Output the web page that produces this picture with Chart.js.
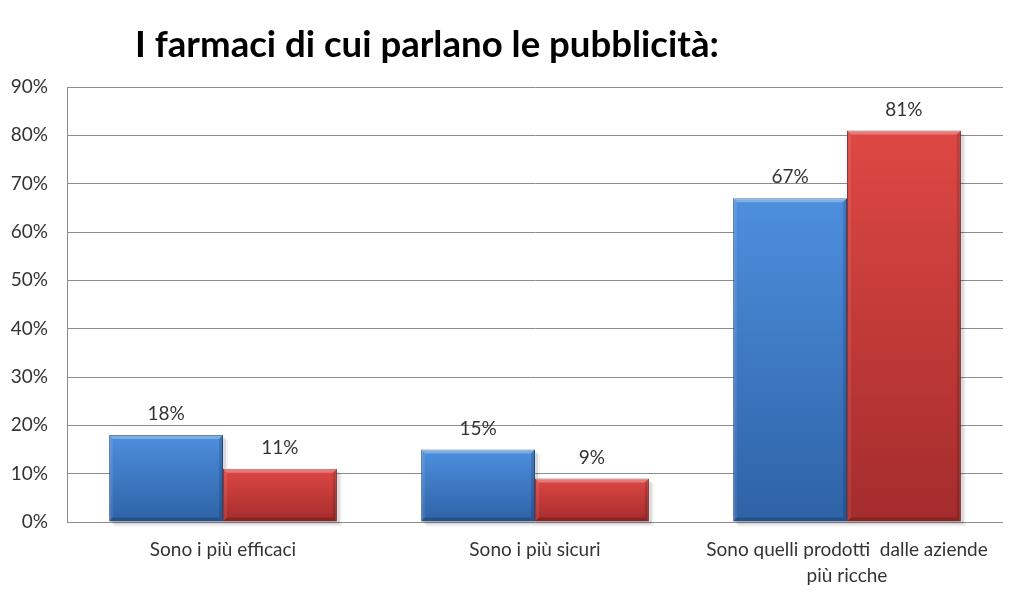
<!DOCTYPE html>
<html>
<head>
<meta charset="utf-8">
<script src="https://cdn.jsdelivr.net/npm/chart.js@4/dist/chart.umd.min.js"></script>
<style>
  html, body { margin: 0; padding: 0; background: #ffffff; }
  #wrap { width: 1024px; height: 601px; position: relative; }
</style>
</head>
<body>
<div id="wrap"><canvas id="c" width="1024" height="601"></canvas></div>
<script>
const titleText = "I farmaci di cui parlano le pubblicità:";
const categories = [
  "Sono i più efficaci",
  "Sono i più sicuri",
  ["Sono quelli prodotti  dalle aziende", "più ricche"]
];
const seriesBlue = [18, 15, 67];
const seriesRed = [11, 9, 81];
const yMin = 0, yMax = 90, yStep = 10;

const FONT = "Lato, 'Open Sans', 'DejaVu Sans', sans-serif";

function barGradient(ctx, light, dark) {
  const chart = ctx.chart;
  const ys = chart.scales.y;
  if (!ys || ctx.parsed === undefined || !chart.chartArea) return light;
  const top = ys.getPixelForValue(ctx.parsed.y);
  const bot = ys.getPixelForValue(0);
  if (!isFinite(top) || !isFinite(bot) || top === bot) return light;
  const g = chart.ctx.createLinearGradient(0, top, 0, bot);
  g.addColorStop(0, light);
  g.addColorStop(1, dark);
  return g;
}

const titlePlugin = {
  id: 'leftTitle',
  afterDraw(chart) {
    const c = chart.ctx;
    c.save();
    let size = 30;
    c.font = "bold " + size + "px " + FONT;
    const w = c.measureText(titleText).width;
    size = size * 585 / w;
    c.font = "bold " + size.toFixed(1) + "px " + FONT;
    c.fillStyle = "#000000";
    c.textAlign = "left";
    c.textBaseline = "alphabetic";
    c.fillText(titleText, 135, 57);
    c.restore();
  }
};

const shadowPlugin = {
  id: 'barShadow',
  beforeDatasetsDraw(chart) {
    const c = chart.ctx;
    c.save();
    chart.data.datasets.forEach((ds, di) => {
      const meta = chart.getDatasetMeta(di);
      meta.data.forEach(bar => {
        const x0 = bar.x - bar.width / 2, x1 = bar.x + bar.width / 2;
        c.fillStyle = "rgba(0,0,0,0.10)";
        c.fillRect(x0 + 3, bar.y + 3, x1 - x0, bar.base - bar.y);
        c.fillStyle = "rgba(0,0,0,0.05)";
        c.fillRect(x0 + 5, bar.y + 5, x1 - x0, bar.base - bar.y);
      });
    });
    c.restore();
  }
};

const bevelPlugin = {
  id: 'bevel',
  afterDatasetsDraw(chart) {
    const c = chart.ctx;
    const b = 4;
    c.save();
    chart.data.datasets.forEach((ds, di) => {
      const meta = chart.getDatasetMeta(di);
      meta.data.forEach(bar => {
        const x0 = bar.x - bar.width / 2, x1 = bar.x + bar.width / 2;
        const y0 = bar.y, y1 = bar.base;
        c.fillStyle = "rgba(255,255,255,0.28)";
        c.beginPath();
        c.moveTo(x0, y0); c.lineTo(x1, y0); c.lineTo(x1 - b, y0 + b); c.lineTo(x0 + b, y0 + b); c.closePath();
        c.fill();
        c.fillStyle = "rgba(0,0,0,0.14)";
        c.beginPath();
        c.moveTo(x1, y0); c.lineTo(x1, y1); c.lineTo(x1 - b, y1 - b); c.lineTo(x1 - b, y0 + b); c.closePath();
        c.fill();
        c.fillStyle = "rgba(0,0,0,0.18)";
        c.beginPath();
        c.moveTo(x0, y1); c.lineTo(x1, y1); c.lineTo(x1 - b, y1 - b); c.lineTo(x0 + b, y1 - b); c.closePath();
        c.fill();
        c.fillStyle = "rgba(255,255,255,0.08)";
        c.beginPath();
        c.moveTo(x0, y0); c.lineTo(x0 + b, y0 + b); c.lineTo(x0 + b, y1 - b); c.lineTo(x0, y1); c.closePath();
        c.fill();
      });
    });
    c.restore();
  }
};

const labelPlugin = {
  id: 'valueLabels',
  afterDatasetsDraw(chart) {
    const c = chart.ctx;
    c.save();
    c.font = "19px " + FONT;
    c.fillStyle = "#333333";
    c.textAlign = "center";
    c.textBaseline = "middle";
    chart.data.datasets.forEach((ds, di) => {
      const meta = chart.getDatasetMeta(di);
      meta.data.forEach((bar, i) => {
        c.fillText(ds.data[i] + "%", bar.x, bar.y - 21);
      });
    });
    c.restore();
  }
};

new Chart(document.getElementById('c'), {
  type: 'bar',
  data: {
    labels: categories,
    datasets: [
      {
        label: 'A',
        data: seriesBlue,
        backgroundColor: ctx => barGradient(ctx, '#4d8fde', '#2e62a6'),
        borderColor: '#2a548c',
        borderWidth: 1,
        categoryPercentage: 0.73,
        barPercentage: 1.0
      },
      {
        label: 'B',
        data: seriesRed,
        backgroundColor: ctx => barGradient(ctx, '#de4844', '#a42c2c'),
        borderColor: '#8a2424',
        borderWidth: 1,
        categoryPercentage: 0.73,
        barPercentage: 1.0
      }
    ]
  },
  options: {
    responsive: false,
    animation: false,
    layout: { padding: { top: 87, right: 21, left: 0, bottom: 0 } },
    plugins: {
      legend: { display: false },
      title: { display: false },
      tooltip: { enabled: false }
    },
    scales: {
      x: {
        grid: { display: false, drawTicks: false },
        border: { display: false },
        ticks: {
          color: '#333333',
          font: { family: FONT, size: 19, lineHeight: 1.37 },
          padding: 15,
          maxRotation: 0,
          autoSkip: false
        },
        afterFit(scale) { scale.height = 79; }
      },
      y: {
        min: yMin, max: yMax,
        grid: { color: '#8c8c8c', lineWidth: 1, drawTicks: false },
        border: { display: true, color: '#8c8c8c', width: 1 },
        ticks: {
          stepSize: yStep,
          color: '#333333',
          font: { family: FONT, size: 19 },
          padding: 19,
          callback: v => v + '%'
        },
        afterFit(scale) { scale.width = 67; }
      }
    }
  },
  plugins: [titlePlugin, shadowPlugin, bevelPlugin, labelPlugin]
});
</script>
</body>
</html>
